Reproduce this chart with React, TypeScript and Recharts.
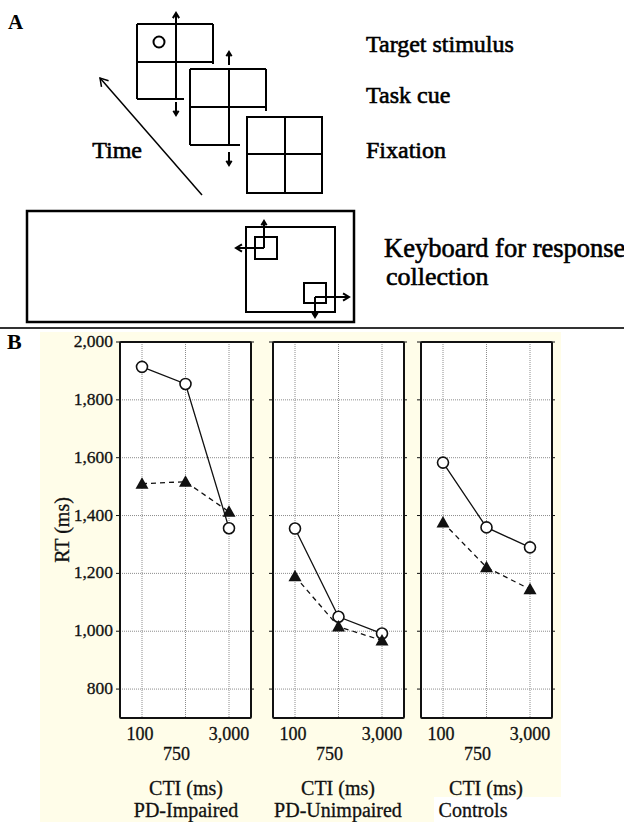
import { CartesianGrid, Line, LineChart, XAxis, YAxis } from 'recharts';

// CTI conditions (ms) and RT ticks
const CTI_LABELS = ['100', '750', '3,000'];
const RT_TICKS = [800, 1000, 1200, 1400, 1600, 1800, 2000];

// mean RT (ms): open circles = solid line, filled triangles = dashed line
const impairedOpen = [1914, 1855, 1356];
const impairedFilled = [1510, 1517, 1413];
const unimpairedOpen = [1355, 1050, 992];
const unimpairedFilled = [1190, 1016, 968];
const controlsOpen = [1583, 1359, 1290];
const controlsFilled = [1376, 1221, 1145];

const SERIF = '"Liberation Serif", "Times New Roman", serif';
const CREAM = '#fffde9';
const INK = '#111';

// plot geometry in panel B
const BOX_W = 131;
const BOX_H = 376;
const BOX_TOP = 342;
const Y_AXIS_W = 70;
const TOP_PAD = 15;

function Arrow({ x1, y1, x2, y2, head = 6 }: { x1: number; y1: number; x2: number; y2: number; head?: number }) {
    const a = Math.atan2(y2 - y1, x2 - x1);
    const h1 = `${x2 - head * Math.cos(a - 0.55)},${y2 - head * Math.sin(a - 0.55)}`;
    const h2 = `${x2 - head * Math.cos(a + 0.55)},${y2 - head * Math.sin(a + 0.55)}`;
    return (
        <g>
            <line x1={x1} y1={y1} x2={x2} y2={y2} />
            <polyline points={`${h1} ${x2},${y2} ${h2}`} fill="none" />
        </g>
    );
}

function TriangleDot(props: any) {
    const { cx, cy } = props;
    if (cx == null || cy == null) return <g />;
    return <polygon points={`${cx},${cy - 6.5} ${cx - 6.5},${cy + 5} ${cx + 6.5},${cy + 5}`} fill={INK} />;
}

function CircleDot(props: any) {
    const { cx, cy } = props;
    if (cx == null || cy == null) return <g />;
    return <circle cx={cx} cy={cy} r={5.5} fill="#fff" stroke={INK} strokeWidth={1.6} />;
}

// staggered CTI labels: 100 and 3,000 on first row, 750 underneath
function CtiTick(props: any) {
    const { x, y, payload, index } = props;
    const second = index === 1;
    const dx = index === 0 ? -2 : index === 1 ? -9 : 0;
    return (
        <text x={x + dx} y={y} dy={second ? 34 : 14} textAnchor="middle" fontFamily={SERIF} fontSize={18}
            fill={INK} stroke={INK} strokeWidth={0.3}>
            {payload.value}
        </text>
    );
}

function Panel({ left, open, filled, showY }: { left: number; open: number[]; filled: number[]; showY: boolean }) {
    const rows = CTI_LABELS.map((cti, i) => ({ cti, open: open[i], filled: filled[i] }));

    const rtTick = (p: any) => {
        if (!showY) return <g />;
        return (
            <text x={p.x} y={p.y} dy={5} textAnchor="end" fontFamily={SERIF} fontSize={17.5} fill={INK}
                stroke={INK} strokeWidth={0.3}>
                {p.payload.value.toLocaleString('en-US')}
            </text>
        );
    };

    return (
        <div style={{ position: 'absolute', left: left - Y_AXIS_W, top: BOX_TOP - TOP_PAD }}>
            <LineChart width={Y_AXIS_W + BOX_W + 10} height={TOP_PAD + BOX_H + 50} data={rows}
                margin={{ top: TOP_PAD, right: 0, left: 0, bottom: 0 }}>
                <CartesianGrid yAxisId="rt" stroke="#8c8c8c" strokeDasharray="1 1" fill="#fff" />
                <XAxis dataKey="cti" padding={{ left: 22, right: 22 }} tickLine={false} axisLine={false}
                    height={50} interval={0} tick={<CtiTick />} />
                <YAxis yAxisId="rt" type="number" width={Y_AXIS_W} domain={[700, 2000]} ticks={RT_TICKS}
                    allowDataOverflow axisLine={false} tickSize={4} tickMargin={3} tickLine={{ stroke: INK }}
                    tick={rtTick} />
                <YAxis yAxisId="edge" orientation="right" type="number" width={10} domain={[700, 2000]}
                    ticks={RT_TICKS} allowDataOverflow axisLine={false} tickSize={3} tickLine={{ stroke: INK }}
                    tick={() => <g />} />
                <Line yAxisId="rt" dataKey="open" stroke={INK} strokeWidth={1.3} dot={<CircleDot />}
                    isAnimationActive={false} />
                <Line yAxisId="rt" dataKey="filled" stroke={INK} strokeWidth={1.3} strokeDasharray="5 4"
                    dot={<TriangleDot />} isAnimationActive={false} />
            </LineChart>
            <div style={{
                position: 'absolute', left: Y_AXIS_W - 1, top: TOP_PAD - 1, width: BOX_W + 2, height: BOX_H + 2,
                border: `2px solid ${INK}`, borderRadius: 2, boxSizing: 'border-box', pointerEvents: 'none',
            }} />
        </div>
    );
}

function PanelA() {
    const text = { fontFamily: SERIF, fontSize: 24, fill: '#000', stroke: '#000', strokeWidth: 0.6 };
    return (
        <g stroke="#000" strokeWidth={2} fill="none">
            {/* target stimulus grid (partly behind the next one) */}
            <line x1={137} y1={24} x2={213} y2={24} />
            <line x1={137} y1={24} x2={137} y2={99} />
            <line x1={137} y1={99} x2={184} y2={99} />
            <line x1={213} y1={24} x2={213} y2={64} />
            <line x1={137} y1={62} x2={213} y2={62} />
            <Arrow x1={176} y1={99} x2={176} y2={13} />
            <Arrow x1={176} y1={102} x2={176} y2={115} head={5} />
            <circle cx={159} cy={42} r={5.5} />

            {/* task cue grid */}
            <line x1={190} y1={69} x2={266} y2={69} />
            <line x1={190} y1={69} x2={190} y2={145} />
            <line x1={190} y1={145} x2={240} y2={145} />
            <line x1={266} y1={69} x2={266} y2={111} />
            <line x1={190} y1={107} x2={266} y2={107} />
            <line x1={229} y1={69} x2={229} y2={145} />
            <Arrow x1={229} y1={65} x2={229} y2={52} head={5} />
            <Arrow x1={229} y1={152} x2={229} y2={165} head={5} />

            {/* fixation grid */}
            <rect x={247} y={117} width={75} height={76} />
            <line x1={285} y1={117} x2={285} y2={193} />
            <line x1={247} y1={154} x2={322} y2={154} />

            {/* time arrow */}
            <g strokeWidth={1.5}>
                <Arrow x1={202} y1={195} x2={100} y2={78} head={9} />
            </g>

            {/* keyboard */}
            <rect x={27} y={211} width={327} height={111} strokeWidth={2.5} />
            <rect x={246} y={227} width={89} height={85} />
            <rect x={255} y={237} width={22} height={22} />
            <Arrow x1={264} y1={248} x2={264} y2={221} head={5} />
            <Arrow x1={264} y1={248} x2={236} y2={248} head={7} />
            <rect x={304} y={283} width={22} height={20} />
            <Arrow x1={315} y1={297} x2={349} y2={297} head={7} />
            <Arrow x1={315} y1={297} x2={315} y2={317} head={5} />

            <text {...text} x={8} y={29} fontSize={21} fontWeight="bold" stroke="none">A</text>
            <text {...text} x={142} y={158} textAnchor="end">Time</text>
            <text {...text} x={366} y={52}>Target stimulus</text>
            <text {...text} x={366} y={103}>Task cue</text>
            <text {...text} x={366} y={158}>Fixation</text>
            <text {...text} x={384} y={257} fontSize={26.5}>Keyboard for response</text>
            <text {...text} x={386} y={285} fontSize={26}>collection</text>
        </g>
    );
}

export default function App() {
    const label = {
        fontFamily: SERIF, fontSize: 20, fill: INK, stroke: INK, strokeWidth: 0.3, textAnchor: 'middle' as const,
    };
    return (
        <div style={{ position: 'absolute', left: 0, top: 0, width: 624, height: 822, background: '#fff', overflow: 'hidden' }}>
            <svg width={624} height={822} style={{ position: 'absolute', left: 0, top: 0 }}>
                <PanelA />
                <line x1={0} y1={328} x2={624} y2={328} stroke="#333" strokeWidth={2} />

                {/* panel B background */}
                <rect x={40} y={332} width={521} height={490} fill={CREAM} />
                <rect x={434} y={797} width={127} height={25} fill="#fff" />

                <text x={7} y={349} fontFamily={SERIF} fontSize={22} fontWeight="bold" fill="#000">B</text>
                <text x={62} y={530} {...label} transform="rotate(-90 62 530)" dy={7}>RT (ms)</text>

                <text x={186} y={795} {...label}>CTI (ms)</text>
                <text x={186} y={817} {...label}>PD-Impaired</text>
                <text x={338} y={795} {...label}>CTI (ms)</text>
                <text x={338} y={817} {...label}>PD-Unimpaired</text>
                <text x={486} y={795} {...label}>CTI (ms)</text>
                <text x={473} y={817} {...label}>Controls</text>
            </svg>

            <Panel left={120} open={impairedOpen} filled={impairedFilled} showY />
            <Panel left={273} open={unimpairedOpen} filled={unimpairedFilled} showY={false} />
            <Panel left={421} open={controlsOpen} filled={controlsFilled} showY={false} />
        </div>
    );
}
